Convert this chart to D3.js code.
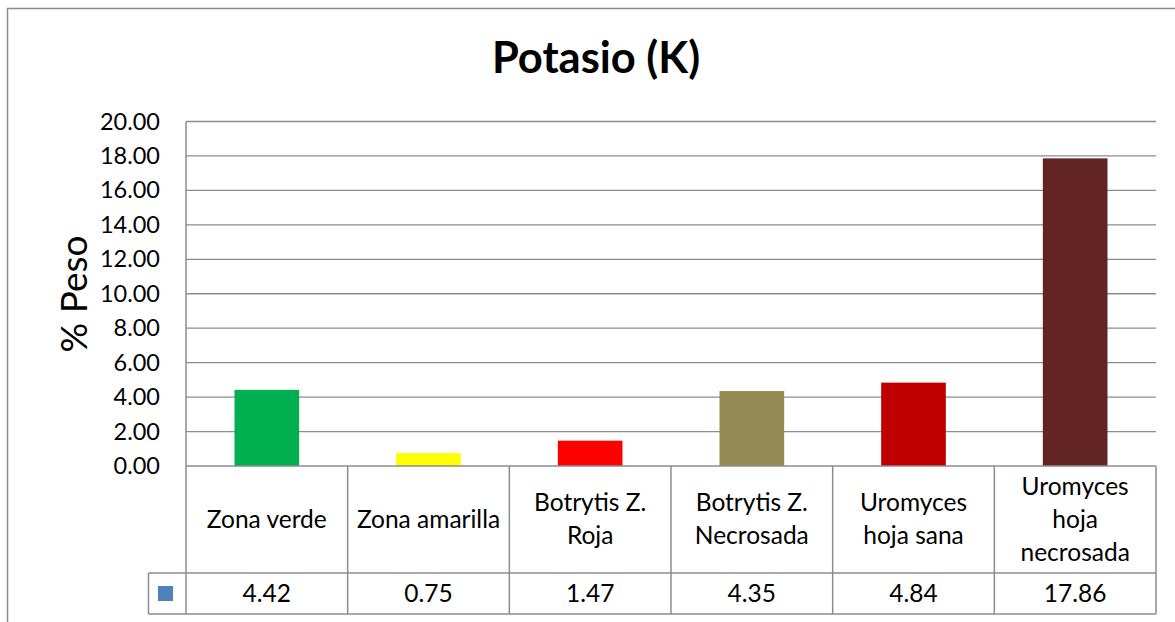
<!DOCTYPE html>
<html>
<head>
<meta charset="utf-8">
<script src="https://cdn.jsdelivr.net/npm/d3@7"></script>
<style>
  body { margin: 0; background: #fff; }
  text { font-family: Lato, "Open Sans", sans-serif; fill: #000; }
</style>
</head>
<body>
<svg width="1175" height="622"></svg>
<script>
// data
const categories = ["Zona verde", "Zona amarilla", "Botrytis Z.\nRoja", "Botrytis Z.\nNecrosada",
                    "Uromyces\nhoja sana", "Uromyces\nhoja\nnecrosada"];
const values = [4.42, 0.75, 1.47, 4.35, 4.84, 17.86];
const barColors = ["#00b050", "#ffff00", "#ff0000", "#948a54", "#c00000", "#632523"];
const yTicks = [0, 2, 4, 6, 8, 10, 12, 14, 16, 18, 20];
const legendColor = "#4f81bd";

const svg = d3.select("svg");
const lineColor = "#8c8c8c";

// outer chart frame
svg.append("rect")
  .attr("x", 7.5).attr("y", 8.5)
  .attr("width", 1200).attr("height", 700)
  .attr("fill", "none")
  .attr("stroke", lineColor)
  .attr("stroke-width", 1.5);

// title
svg.append("text")
  .attr("x", 596).attr("y", 73)
  .attr("text-anchor", "middle")
  .style("font-size", "43.5px")
  .style("font-weight", "bold")
  .text("Potasio (K)");

// scales
const plotLeft = 186, plotRight = 1156, plotTop = 121.5, plotBottom = 466;
let xScale = d3.scaleBand().domain(categories).range([plotLeft, plotRight])
  .paddingInner(0.6).paddingOuter(0.3);
let yScale = d3.scaleLinear().domain([0, 20]).range([plotBottom, plotTop]);
const step = xScale.step();

// gridlines
svg.append("g").attr("id", "gridG")
  .selectAll("line")
  .data(yTicks.filter(d => d > 0))
  .join("line")
  .attr("x1", plotLeft).attr("x2", plotRight)
  .attr("y1", d => yScale(d)).attr("y2", d => yScale(d))
  .attr("stroke", lineColor)
  .attr("stroke-width", 1.3);

// y axis
let yAxis = d3.axisLeft().scale(yScale)
  .tickValues(yTicks).tickFormat(d3.format(".2f"))
  .tickSize(0).tickPadding(26);
let yAxisG = svg.append("g")
  .attr("id", "yAxisG")
  .attr("transform", `translate(${plotLeft}, 0)`)
  .call(yAxis);
yAxisG.select(".domain").remove();
yAxisG.selectAll("text")
  .style("font-family", "Lato, sans-serif")
  .style("font-size", "23.5px")
  .attr("fill", "#000");

svg.append("line")
  .attr("x1", plotLeft).attr("x2", plotLeft)
  .attr("y1", plotTop).attr("y2", 614)
  .attr("stroke", lineColor).attr("stroke-width", 1.5);

// y axis title
svg.append("text")
  .attr("transform", "translate(87, 294) rotate(-90)")
  .attr("text-anchor", "middle")
  .style("font-size", "37px")
  .text("% Peso");

// bars
svg.selectAll("rect.bar")
  .data(values)
  .join("rect")
  .attr("class", "bar")
  .attr("x", (d, i) => xScale(categories[i]))
  .attr("width", xScale.bandwidth())
  .attr("y", d => yScale(d))
  .attr("height", d => yScale(0) - yScale(d))
  .attr("fill", (d, i) => barColors[i]);

// data table
const rowMid = 573, rowBottom = 614, keyLeft = 148.5;
let tableG = svg.append("g").attr("id", "tableG")
  .attr("stroke", lineColor).attr("stroke-width", 1.5);
tableG.append("line").attr("x1", plotLeft).attr("x2", plotRight).attr("y1", plotBottom).attr("y2", plotBottom);
tableG.append("line").attr("x1", keyLeft).attr("x2", plotRight).attr("y1", rowMid).attr("y2", rowMid);
tableG.append("line").attr("x1", keyLeft).attr("x2", plotRight).attr("y1", rowBottom).attr("y2", rowBottom);
tableG.append("line").attr("x1", keyLeft).attr("x2", keyLeft).attr("y1", rowMid).attr("y2", rowBottom);
tableG.selectAll("line.col")
  .data(categories)
  .join("line")
  .attr("class", "col")
  .attr("x1", d => xScale(d) + xScale.bandwidth() / 2 + step / 2)
  .attr("x2", d => xScale(d) + xScale.bandwidth() / 2 + step / 2)
  .attr("y1", plotBottom).attr("y2", rowBottom);

// legend key
svg.append("rect")
  .attr("x", 158).attr("y", 586)
  .attr("width", 15).attr("height", 15)
  .attr("fill", legendColor);

// category labels
const lineH = 33;
svg.selectAll("text.cat")
  .data(categories)
  .join("text")
  .attr("class", "cat")
  .attr("text-anchor", "middle")
  .style("font-size", "24.5px")
  .each(function (d) {
    let lines = d.split("\n");
    let cx = xScale(d) + xScale.bandwidth() / 2;
    let y0 = (plotBottom + rowMid) / 2 - (lines.length - 1) * lineH / 2 + 8;
    d3.select(this).selectAll("tspan")
      .data(lines)
      .join("tspan")
      .attr("x", cx)
      .attr("y", (l, j) => y0 + j * lineH)
      .text(l => l);
  });

// values row
svg.selectAll("text.val")
  .data(values)
  .join("text")
  .attr("class", "val")
  .attr("text-anchor", "middle")
  .attr("x", (d, i) => xScale(categories[i]) + xScale.bandwidth() / 2)
  .attr("y", (rowMid + rowBottom) / 2 + 8)
  .style("font-size", "24.5px")
  .text(d => d3.format(".2f")(d));
</script>
</body>
</html>
